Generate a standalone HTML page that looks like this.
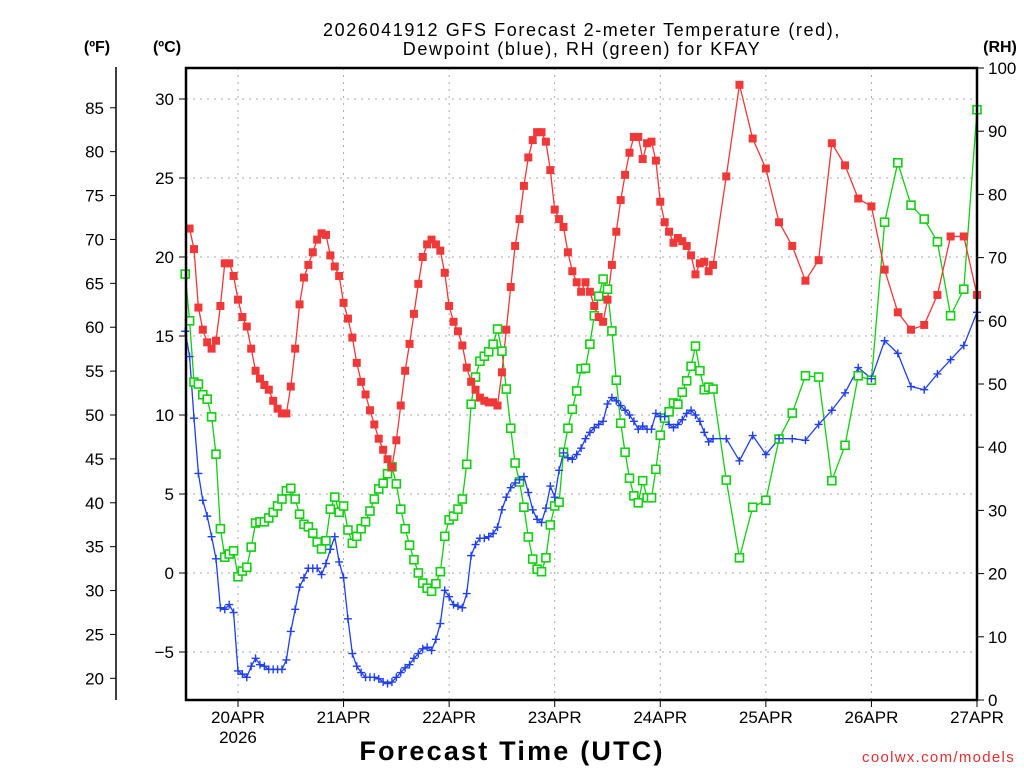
<!DOCTYPE html>
<html><head><meta charset="utf-8"><style>
html,body{margin:0;padding:0;background:#fff;}
svg{display:block;font-family:"Liberation Sans",sans-serif;}
</style></head><body>
<svg id="chart" width="1024" height="768" viewBox="0 0 1024 768" xmlns="http://www.w3.org/2000/svg">
<rect width="1024" height="768" fill="#fff"/>
<text x="582" y="36" font-size="18" text-anchor="middle" fill="#000" letter-spacing="1.6">2026041912 GFS Forecast 2-meter Temperature (red),</text>
<text x="582" y="55" font-size="18" text-anchor="middle" fill="#000" letter-spacing="1.6">Dewpoint (blue), RH (green) for KFAY</text>
<text x="97" y="52" font-size="16" font-weight="bold" text-anchor="middle">(ºF)</text>
<text x="167" y="52" font-size="16" font-weight="bold" text-anchor="middle">(ºC)</text>
<text x="1000" y="52" font-size="16" font-weight="bold" text-anchor="middle">(RH)</text>
<text x="512" y="760" font-size="27" font-weight="bold" text-anchor="middle" letter-spacing="2.2">Forecast Time (UTC)</text>
<text x="1015" y="762" font-size="15" text-anchor="end" fill="#e03030" letter-spacing="1.3">coolwx.com/models</text>
<g id="grid"></g><g id="series"></g><g id="axes"></g>
</svg>
<script>
// ---- data ----
const tempHours=[1,2,3,4,5,6,7,8,9,10,11,12,13,14,15,16,17,18,19,20,21,22,23,24,25,26,27,28,29,30,31,32,33,34,35,36,37,38,39,40,41,42,43,44,45,46,47,48,49,50,51,52,53,54,55,56,57,58,59,60,61,62,63,64,65,66,67,68,69,70,71,72,73,74,75,76,77,78,79,80,81,82,83,84,85,86,87,88,89,90,91,92,93,94,95,96,97,98,99,100,101,102,103,104,105,106,107,108,109,110,111,112,113,114,115,116,117,118,119,120,123,126,129,132,135,138,141,144,147,150,153,156,159,162,165,168,171,174,177,180];
const tempC=[21.8,20.5,16.8,15.4,14.6,14.2,14.7,16.9,19.6,19.6,18.8,17.3,16.2,15.6,14.2,12.8,12.3,11.9,11.6,10.9,10.4,10.1,10.1,11.8,14.2,17.0,18.7,19.5,20.3,21.1,21.5,21.4,20.1,19.4,18.8,17.1,16.1,14.9,13.3,12.1,11.3,10.3,9.4,8.5,7.8,7.2,6.7,8.4,10.6,12.8,14.5,16.4,18.3,20.0,20.8,21.1,20.8,20.4,19.0,16.9,15.9,15.3,14.4,13.0,12.1,11.6,11.1,10.9,10.8,10.8,10.6,12.7,15.4,18.1,20.7,22.4,24.5,26.3,27.4,27.9,27.9,27.3,25.5,23.0,22.4,21.9,20.3,19.1,18.4,17.8,18.4,17.8,16.9,16.2,15.9,17.3,19.5,21.6,23.6,25.2,26.6,27.6,27.6,26.2,27.2,27.3,26.1,23.5,22.2,21.6,20.9,21.2,21.0,20.7,20.1,18.9,19.6,19.7,19.1,19.5,25.1,30.9,27.5,25.6,22.2,20.7,18.5,19.8,27.2,25.8,23.7,23.2,19.2,16.5,15.4,15.7,17.6,21.3,21.3,17.6];
const dewHours=[0,1,2,3,4,5,6,7,8,9,10,11,12,13,14,15,16,17,18,19,20,21,22,23,24,25,26,27,28,29,30,31,32,33,34,35,36,37,38,39,40,41,42,43,44,45,46,47,48,49,50,51,52,53,54,55,56,57,58,59,60,61,62,63,64,65,66,67,68,69,70,71,72,73,74,75,76,77,78,79,80,81,82,83,84,85,86,87,88,89,90,91,92,93,94,95,96,97,98,99,100,101,102,103,104,105,106,107,108,109,110,111,112,113,114,115,116,117,118,119,120,123,126,129,132,135,138,141,144,147,150,153,156,159,162,165,168,171,174,177,180];
const dewC=[15.3,13.7,9.8,6.3,4.6,3.6,2.3,0.9,-2.2,-2.3,-2.0,-2.5,-6.2,-6.4,-6.6,-5.9,-5.4,-5.8,-5.9,-6.1,-6.1,-6.1,-6.1,-5.5,-3.7,-2.3,-0.9,-0.3,0.3,0.3,0.3,-0.1,0.6,1.5,2.3,0.7,-0.3,-2.9,-5.1,-5.9,-6.3,-6.6,-6.6,-6.6,-6.7,-6.9,-7.0,-6.9,-6.6,-6.3,-6.0,-5.8,-5.4,-5.1,-4.8,-4.7,-4.9,-4.2,-3.2,-1.1,-1.5,-2.0,-2.1,-2.2,-1.3,1.1,1.8,2.2,2.2,2.3,2.5,2.9,4.0,4.8,5.4,5.7,5.9,6.1,5.1,4.0,3.4,3.2,4.1,5.5,4.8,6.5,7.6,7.3,7.2,7.5,7.9,8.5,8.9,9.2,9.4,9.6,10.7,11.1,10.9,10.6,10.3,10.0,9.6,9.1,9.3,9.1,9.1,10.1,9.9,9.9,9.4,9.2,9.4,9.7,10.1,10.3,10.0,9.6,8.9,8.3,8.5,8.5,7.1,8.7,7.5,8.5,8.5,8.4,9.4,10.3,11.4,13.0,12.3,14.7,13.9,11.8,11.6,12.6,13.5,14.4,16.5];
const rhHours=dewHours;
const rhPct=[67.4,60.0,50.3,50.0,48.3,47.6,44.8,38.9,27.1,22.6,23.1,23.6,19.5,20.4,21.0,24.2,28.0,28.2,28.2,28.8,29.7,30.7,31.8,33.1,33.5,31.8,29.4,27.8,27.4,26.4,25.0,23.9,25.2,30.2,32.1,29.7,30.7,26.9,24.8,25.9,27.1,28.2,29.9,31.8,33.4,34.3,35.8,36.9,34.2,30.2,27.1,24.5,22.2,20.1,18.5,17.7,17.2,18.4,20.3,25.9,28.5,29.1,30.2,31.8,37.3,46.8,51.1,53.6,54.4,55.1,56.3,58.7,55.2,49.2,43.0,37.5,34.5,30.5,25.8,22.3,20.7,20.3,22.5,27.7,30.7,31.3,39.2,43.0,46.0,48.9,52.4,52.5,56.3,60.8,63.9,66.6,65.0,58.4,50.6,43.8,39.2,35.1,32.3,31.2,34.7,32.0,32.0,36.5,41.9,44.6,45.6,47.0,46.8,48.7,50.5,52.8,56.0,52.1,49.1,49.5,49.2,34.8,22.5,30.5,31.6,41.3,45.4,51.3,51.1,34.7,40.3,51.3,50.6,75.6,85.0,78.3,76.1,72.5,60.8,65.0,93.4];
const cTicks=[-5,0,5,10,15,20,25,30];
const fTicks=[20,25,30,35,40,45,50,55,60,65,70,75,80,85];
const rhTicks=[0,10,20,30,40,50,60,70,80,90,100];
const dayLabels=["20APR","21APR","22APR","23APR","24APR","25APR","26APR","27APR"];
const dayHours=[12,36,60,84,108,132,156,180];

// ---- axis functions ----
const X0=186,X1=977,Y0=68,Y1=700;
const xH=h=>185.2+h*(X1-185.2)/180;
const yC=c=>573-c*15.8;
const yF=f=>yC((f-32)*5/9);
const yRH=r=>Y1-r*(Y1-Y0)/100;
const NS="http://www.w3.org/2000/svg";
function mk(tag,parent,attrs){const e=document.createElementNS(NS,tag);for(const k in attrs)e.setAttribute(k,attrs[k]);parent.appendChild(e);return e;}
const grid=document.getElementById('grid'),series=document.getElementById('series'),axes=document.getElementById('axes');

cTicks.forEach(c=>{
  const y=yC(c);
  const g=mk('line',grid,{x1:X0,x2:X1,y1:y,y2:y,stroke:'#aaa','stroke-dasharray':'2,5'});
  
  
  mk('line',axes,{x1:X0-7,x2:X0,y1:y,y2:y,stroke:'#000'});
  const t=mk('text',axes,{x:X0-12,y:y+6,'font-size':17,'text-anchor':'end'});
  t.textContent=(c<0?'\u2212'+(-c):c);
  
  
});
dayHours.forEach((h,i)=>{
  const x=xH(h);
  if(i<7){const g=mk('line',grid,{x1:x,x2:x,y1:Y0,y2:Y1,stroke:'#aaa','stroke-dasharray':'2,5'});
  
  }
  mk('line',axes,{x1:x,x2:x,y1:Y1,y2:Y1+7,stroke:'#000'});
  const t=mk('text',axes,{x:x,y:723,'font-size':17,'text-anchor':'middle'});
  t.textContent=dayLabels[i];
  
  
});
const yr=mk('text',axes,{x:xH(12),y:743,'font-size':17,'text-anchor':'middle'});yr.textContent='2026';


fTicks.forEach(f=>{
  const y=yF(f);
  mk('line',axes,{x1:110,x2:116,y1:y,y2:y,stroke:'#000'});
  const t=mk('text',axes,{x:104,y:y+6,'font-size':17,'text-anchor':'end'});t.textContent=f;
  
  
});
mk('line',axes,{x1:116,x2:116,y1:67,y2:700,stroke:'#000','stroke-width':1.5});
rhTicks.forEach(r=>{
  const y=yRH(r);
  mk('line',axes,{x1:X1,x2:X1+7,y1:y,y2:y,stroke:'#000'});
  const t=mk('text',axes,{x:988,y:y+6,'font-size':17,'text-anchor':'start'});t.textContent=r;
  
  
});
mk('rect',axes,{x:X0,y:Y0,width:X1-X0,height:Y1-Y0,fill:'none',stroke:'#000','stroke-width':2.5});

function line(hours,vals,yf,color,name){
  const p=mk('polyline',series,{points:hours.map((h,i)=>xH(h)+','+yf(vals[i])).join(' '),fill:'none',stroke:color,'stroke-width':1.3});
  
  
}
line(rhHours,rhPct,yRH,'#10d010','rh-line');
line(dewHours,dewC,yC,'#2040f0','dewpoint-line');
line(tempHours,tempC,yC,'#f03838','temperature-line');
rhHours.forEach((h,i)=>{
  const m=mk('rect',series,{x:xH(h)-4,y:yRH(rhPct[i])-4,width:8,height:8,fill:'#fff',stroke:'#10d010','stroke-width':1.6});
  
  
});
dewHours.forEach((h,i)=>{
  const x=xH(h),y=yC(dewC[i]);
  const m=mk('path',series,{d:`M${x-4},${y}H${x+4}M${x},${y-4}V${y+4}`,stroke:'#2040f0','stroke-width':1.4});
  
  
});
tempHours.forEach((h,i)=>{
  const m=mk('rect',series,{x:xH(h)-4,y:yC(tempC[i])-4,width:8,height:8,fill:'#f03838'});
  
  
});
</script>
</body></html>
